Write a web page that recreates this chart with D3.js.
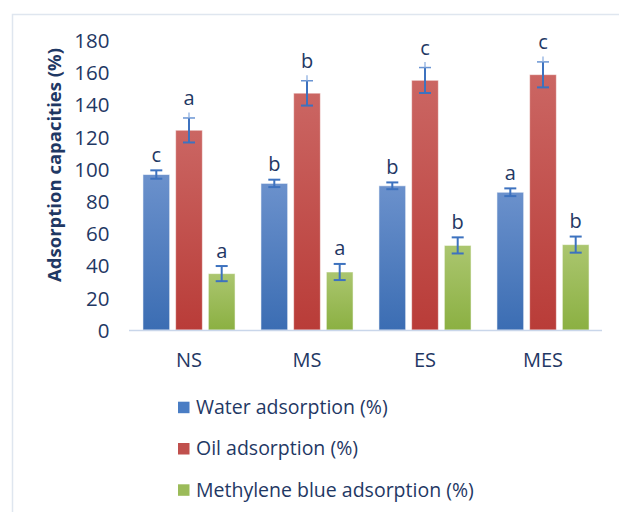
<!DOCTYPE html>
<html>
<head>
<meta charset="utf-8">
<script src="https://cdn.jsdelivr.net/npm/d3@7"></script>
<style>
  html, body { margin: 0; padding: 0; background: #fff; }
  svg { display: block; }
  text { font-family: "Open Sans", sans-serif; fill: #1f3864; }
</style>
</head>
<body>
<svg id="chart" width="619" height="512"></svg>
<script>
const categories = ["NS", "MS", "ES", "MES"];
const seriesNames = ["Water adsorption (%)", "Oil adsorption (%)", "Methylene blue adsorption (%)"];
const waterValues = [96.5, 91, 89.5, 85.5];
const waterErrors = [2.6, 2.3, 2.1, 2.4];
const oilValues = [124, 147, 155, 158.5];
const oilErrors = [7.6, 7.7, 7.9, 7.9];
const mbValues = [35, 36, 52.5, 53];
const mbErrors = [4.7, 5, 5, 5];
const waterLetters = ["c", "b", "b", "a"];
const oilLetters = ["a", "b", "c", "c"];
const mbLetters = ["a", "a", "b", "b"];
const yTicks = [0, 20, 40, 60, 80, 100, 120, 140, 160, 180];

const seriesValues = [waterValues, oilValues, mbValues];
const seriesErrors = [waterErrors, oilErrors, mbErrors];
const seriesLetters = [waterLetters, oilLetters, mbLetters];
const colorsTop = ["#6b91cc", "#cb6663", "#abc66f"];
const colorsBottom = ["#3b6db3", "#b93c38", "#8bb042"];
const legendColors = ["#4a7dc4", "#c0504d", "#9bbb59"];

const svg = d3.select("#chart");

// outer border
svg.append("rect")
  .attr("x", 12.5).attr("y", 14.5)
  .attr("width", 700).attr("height", 600)
  .attr("fill", "none").attr("stroke", "#dfe6ef").attr("stroke-width", 1.5);

const defs = svg.append("defs");
seriesNames.forEach((s, i) => {
  const g = defs.append("linearGradient").attr("id", "grad" + i)
    .attr("x1", 0).attr("y1", 0).attr("x2", 0).attr("y2", 1);
  g.append("stop").attr("offset", "0%").attr("stop-color", colorsTop[i]);
  g.append("stop").attr("offset", "100%").attr("stop-color", colorsBottom[i]);
});

const y = d3.scaleLinear().domain([0, 180]).range([330, 40]);
const x0 = d3.scaleBand().domain(categories).range([130, 602]).paddingInner(0).paddingOuter(0);
const x1 = d3.scaleBand().domain(d3.range(seriesNames.length)).range([0, x0.bandwidth()])
  .paddingInner(0.183).paddingOuter(0.396);

// y axis labels (no line, no ticks)
const yAxis = d3.axisLeft(y).tickValues(yTicks).tickSize(0).tickPadding(0);
const yg = svg.append("g").attr("transform", "translate(109.5,0)").call(yAxis);
yg.select(".domain").remove();
yg.selectAll("text")
  .style("font-family", "'Open Sans', sans-serif")
  .style("font-size", "20.5px")
  .attr("fill", "#1f3864")
  .attr("dy", "0.36em");

// y title
svg.append("text")
  .attr("transform", "translate(61,165) rotate(-90)")
  .attr("text-anchor", "middle")
  .style("font-size", "18.5px")
  .style("font-weight", "bold")
  .text("Adsorption capacities (%)");

// bars
const groups = svg.append("g").selectAll("g")
  .data(categories)
  .join("g")
  .attr("transform", d => `translate(${x0(d)},0)`);

seriesNames.forEach((s, si) => {
  groups.append("rect")
    .attr("x", x1(si))
    .attr("width", x1.bandwidth())
    .attr("y", (d, ci) => y(seriesValues[si][ci]))
    .attr("height", (d, ci) => y(0) - y(seriesValues[si][ci]))
    .attr("fill", `url(#grad${si})`)
    .attr("stroke", "rgba(255,255,255,0.55)")
    .attr("stroke-width", 1);
});

// x axis line
svg.append("line")
  .attr("x1", 129).attr("x2", 602)
  .attr("y1", y(0) + 0.5).attr("y2", y(0) + 0.5)
  .attr("stroke", "#c9d6ea").attr("stroke-width", 1.5);

// error bars
const errColor = "#3d72bf";
seriesNames.forEach((s, si) => {
  groups.each(function (d, ci) {
    const g = d3.select(this);
    const cx = x1(si) + x1.bandwidth() / 2;
    const v = seriesValues[si][ci], e = seriesErrors[si][ci];
    const yt = y(v + e), yb = y(v - e);
    g.append("line").attr("x1", cx).attr("x2", cx).attr("y1", yt).attr("y2", yb)
      .attr("stroke", errColor).attr("stroke-width", 2);
    g.append("line").attr("x1", cx - 6).attr("x2", cx + 6).attr("y1", yb).attr("y2", yb)
      .attr("stroke", errColor).attr("stroke-width", 2);
    if (si === 1) {
      g.append("line").attr("x1", cx - 6).attr("x2", cx + 6).attr("y1", yt).attr("y2", yt)
        .attr("stroke", "#6a95d3").attr("stroke-width", 1.5);
      g.append("line").attr("x1", cx).attr("x2", cx).attr("y1", yt - 5.5).attr("y2", yt)
        .attr("stroke", "#8fb0e0").attr("stroke-width", 1.3);
    } else {
      g.append("line").attr("x1", cx - 6).attr("x2", cx + 6).attr("y1", yt).attr("y2", yt)
        .attr("stroke", errColor).attr("stroke-width", 2);
    }
    g.append("text")
      .attr("x", cx)
      .attr("y", yt - (si === 1 ? 12.5 : 8.5))
      .attr("text-anchor", "middle")
      .style("font-size", "20px")
      .text(seriesLetters[si][ci]);
  });
});

// category labels
svg.append("g").selectAll("text")
  .data(categories)
  .join("text")
  .attr("x", d => x0(d) + x0.bandwidth() / 2)
  .attr("y", 367)
  .attr("text-anchor", "middle")
  .style("font-size", "20px")
  .text(d => d);

// legend
const legend = svg.append("g").selectAll("g")
  .data(seriesNames)
  .join("g")
  .attr("transform", (d, i) => `translate(178,${414 + i * 41.3})`);
legend.append("rect")
  .attr("x", 0).attr("y", -12.3)
  .attr("width", 11.5).attr("height", 11.5)
  .attr("fill", (d, i) => legendColors[i]);
legend.append("text")
  .attr("x", 18).attr("y", 0)
  .style("font-size", "19.5px")
  .text(d => d);
</script>
</body>
</html>
